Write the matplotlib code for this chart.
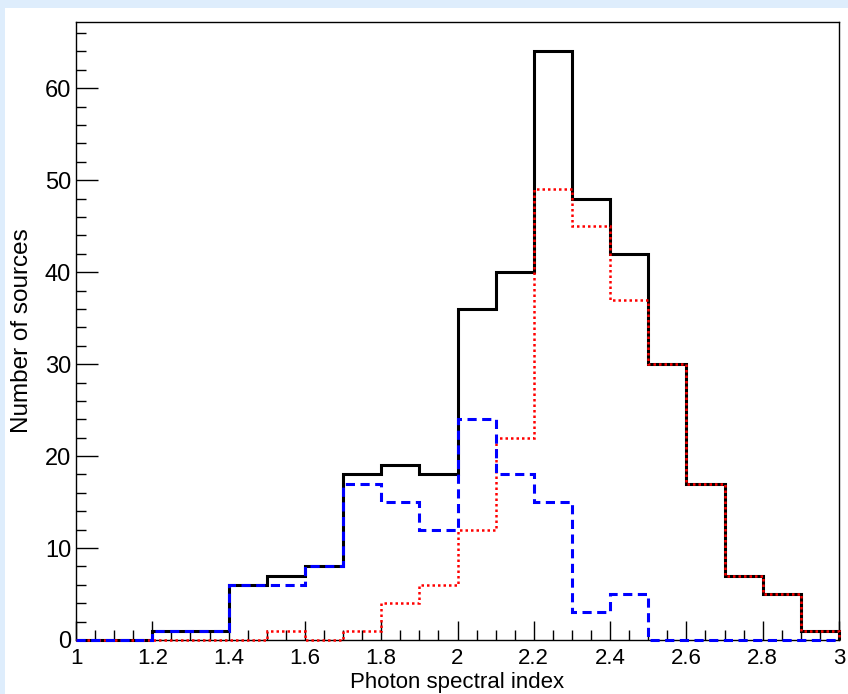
import matplotlib
matplotlib.use("Agg")
import matplotlib.pyplot as plt
import numpy as np
from matplotlib.ticker import MultipleLocator, FuncFormatter
from matplotlib.patches import Rectangle

plt.rcParams['font.family'] = ['Liberation Sans', 'DejaVu Sans']

# Histogram bins (photon spectral index)
bin_edges = [1.0, 1.1, 1.2, 1.3, 1.4, 1.5, 1.6, 1.7, 1.8, 1.9, 2.0,
             2.1, 2.2, 2.3, 2.4, 2.5, 2.6, 2.7, 2.8, 2.9, 3.0]
total_counts = [0, 0, 1, 1, 6, 7, 8, 18, 19, 18, 36, 40, 64, 48, 42, 30, 17, 7, 5, 1]
blue_counts = [0, 0, 1, 1, 6, 6, 8, 17, 15, 12, 24, 18, 15, 3, 5, 0, 0, 0, 0, 0]
red_counts = [0, 0, 0, 0, 0, 1, 0, 1, 4, 6, 12, 22, 49, 45, 37, 30, 17, 7, 5, 1]

x_label = "Photon spectral index"
y_label = "Number of sources"

fig = plt.figure(figsize=(8.48, 6.94), dpi=100)
fig.patch.set_facecolor('#deedfc')
# white panel
fig.add_artist(Rectangle((5 / 848, 0), 1, 1 - 8 / 694, transform=fig.transFigure,
                         facecolor='white', edgecolor='none', zorder=0))

ax = fig.add_axes([76 / 848, 1 - 640 / 694, (839 - 76) / 848, (640 - 22) / 694])
ax.set_facecolor('white')

ax.stairs(total_counts, bin_edges, color='black', linewidth=2.2, clip_on=False, zorder=2)
ax.stairs(red_counts, bin_edges, color='#ff0000', linewidth=1.8,
          linestyle=(0, (1.0, 1.2)), clip_on=False, zorder=3)
ax.stairs(blue_counts, bin_edges, color='#0000ff', linewidth=2.2,
          linestyle=(0, (3.0, 1.8)), clip_on=False, zorder=4)

ax.set_xlim(1, 3)
ax.set_ylim(0, 67.2)

ax.xaxis.set_major_locator(MultipleLocator(0.2))
ax.xaxis.set_minor_locator(MultipleLocator(0.05))
ax.yaxis.set_major_locator(MultipleLocator(10))
ax.yaxis.set_minor_locator(MultipleLocator(2))

ax.xaxis.set_major_formatter(FuncFormatter(lambda v, p: f"{v:g}"))

ax.tick_params(axis='both', which='both', direction='in', top=False, right=False,
               width=1.0, colors='black')
ax.tick_params(axis='x', which='major', length=14, pad=6, labelsize=16)
ax.tick_params(axis='x', which='minor', length=7)
ax.tick_params(axis='y', which='major', length=16, pad=3.5, labelsize=17)
ax.tick_params(axis='y', which='minor', length=7.5)

for s in ax.spines.values():
    s.set_linewidth(1.0)
    s.set_color('black')

ax.set_xlabel(x_label, fontsize=16, labelpad=2)
ax.set_ylabel(y_label, fontsize=17.5)
ax.yaxis.set_label_coords((33 - 76) / 763, 0.5)

fig.savefig('out.png', dpi=100, facecolor=fig.get_facecolor())
